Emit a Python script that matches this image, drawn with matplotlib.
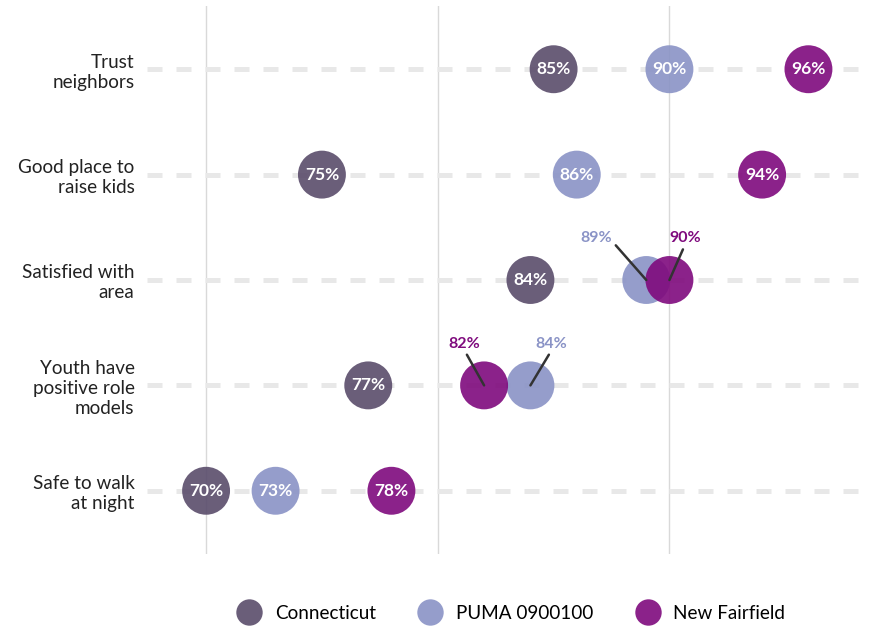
import matplotlib.pyplot as plt
from matplotlib.lines import Line2D

plt.rcParams['font.family'] = ['Lato', 'DejaVu Sans']

# Survey data (share agreeing, %)
categories = ["Trust\nneighbors", "Good place to\nraise kids", "Satisfied with\narea",
              "Youth have\npositive role\nmodels", "Safe to walk\nat night"]
connecticut = [85, 75, 84, 77, 70]
puma = [90, 86, 89, 84, 73]
new_fairfield = [96, 94, 90, 82, 78]

series_names = ["Connecticut", "PUMA 0900100", "New Fairfield"]
colors = ["#5a4c6b", "#8a93c6", "#7f0a7d"]
series = [connecticut, puma, new_fairfield]

# label offsets (points) for circles that are too close together to hold their own label
callout_offsets = {
    (2, 1): ((-36, 30), (1, 0.3)),
    (2, 2): ((11, 30), (0.5, 0)),
    (3, 2): ((-14, 30), (0.5, 0)),
    (3, 1): ((15, 30), (0.5, 0)),
}

fig = plt.figure(figsize=(8.71, 6.26), dpi=100)
ax = fig.add_axes([147 / 871, 1 - 554 / 626, 1 - 147 / 871, 548 / 626])

rows = list(range(len(categories)))

# dashed row guides
for r in rows:
    ax.axhline(r, color="#e8e8e8", lw=3.6, dashes=(3, 2.8), zorder=1)

for vx in [70, 80, 90]:
    ax.axvline(vx, color="#d9d9d9", lw=1, zorder=0)

for i, (vals, col) in enumerate(zip(series, colors)):
    ax.scatter(vals, rows, s=1190, color=col, alpha=0.9, edgecolors="none", zorder=3 + i)

for r in rows:
    row_vals = [s[r] for s in series]
    for i, v in enumerate(row_vals):
        crowded = any(abs(v - o) < 2.5 for j, o in enumerate(row_vals) if j != i)
        if not crowded:
            ax.text(v, r, f"{v}%", ha="center", va="center", color="white",
                    fontsize=12.5, fontweight="bold", zorder=10)
        else:
            off, rel = callout_offsets[(r, i)]
            ax.annotate(f"{v}%", xy=(v, r), xytext=off, textcoords="offset points",
                        ha="center", va="center", color=colors[i], fontsize=11.5,
                        fontweight="bold", zorder=10,
                        arrowprops=dict(arrowstyle="-", color="#333333", lw=1.8,
                                        shrinkA=1, shrinkB=0, relpos=rel))

ax.set_xlim(67.45, 98.7)
ax.set_ylim(len(categories) - 0.4, -0.6)
ax.set_yticks(rows)
ax.set_yticklabels(categories, fontsize=13.6, color="#222222", linespacing=1.2)
ax.tick_params(axis="y", length=0, pad=9)
ax.set_xticks([])
for sp in ax.spines.values():
    sp.set_visible(False)

handles = [Line2D([0], [0], marker="o", linestyle="none", markersize=19,
                  markerfacecolor=c, markeredgecolor="none", alpha=0.9) for c in colors]
fig.legend(handles, series_names, loc="lower center", ncol=3, frameon=False,
           bbox_to_anchor=(0.583, -0.02), fontsize=13.6, handletextpad=0.35,
           columnspacing=1.9)

plt.savefig("out.png", dpi=100)
